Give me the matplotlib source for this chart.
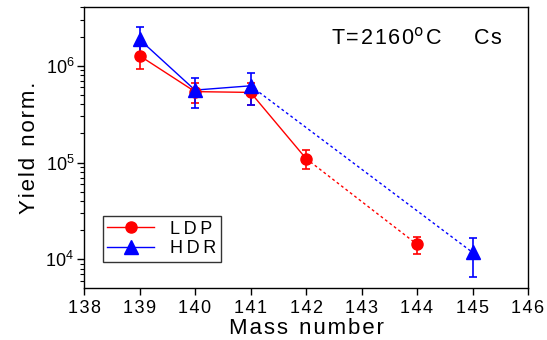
import matplotlib
matplotlib.use("Agg")
import matplotlib.pyplot as plt
import numpy as np
from matplotlib.ticker import LogLocator, NullFormatter

plt.rcParams['font.family'] = ['Liberation Sans', 'DejaVu Sans']

ldp_mass = [139, 140, 141, 142, 144]
ldp_yield = [1.27e6, 5.4e5, 5.3e5, 1.1e5, 1.43e4]
ldp_err_lo = [9.3e5, 4.1e5, 3.9e5, 8.5e4, 1.13e4]
ldp_err_hi = [1.6e6, 6.6e5, 6.6e5, 1.36e5, 1.71e4]

hdr_mass = [139, 140, 141, 145]
hdr_yield = [1.87e6, 5.6e5, 6.2e5, 1.18e4]
hdr_err_lo = [1.25e6, 3.7e5, 3.9e5, 6.6e3]
hdr_err_hi = [2.49e6, 7.4e5, 8.5e5, 1.66e4]

x_ticks = [138, 139, 140, 141, 142, 143, 144, 145, 146]

W, H = 547, 340
fig = plt.figure(figsize=(W/100, H/100), dpi=100)
L, R, T, B = 84, 528, 7, 288
ax = fig.add_axes([L/W, 1-B/H, (R-L)/W, (B-T)/H])

red = '#ff0000'
blue = '#0000ff'

def spaced(s, sp='\u200a'):
    return sp.join(list(s))

def draw(mass, y, lo, hi, color, marker, ms, nsolid, label):
    mass = np.array(mass); y = np.array(y)
    ax.plot(mass[:nsolid], y[:nsolid], '-', color=color, lw=1.0, zorder=2)
    ax.plot(mass[nsolid-1:], y[nsolid-1:], linestyle=(0, (2, 2)), color=color, lw=1.0, zorder=2)
    yerr = [y - np.array(lo), np.array(hi) - y]
    ax.errorbar(mass, y, yerr=yerr, fmt='none', ecolor=color, elinewidth=1.2, capsize=3, capthick=1.2, zorder=3)
    ax.plot(mass, y, linestyle='none', marker=marker, color=color, ms=ms, zorder=4)
    ax.plot([], [], '-', color=color, marker=marker, ms=ms, lw=1.0, label=label)

draw(ldp_mass, ldp_yield, ldp_err_lo, ldp_err_hi, red, 'o', 8, 4, spaced('LDP', '\u2009'))
draw(hdr_mass, hdr_yield, hdr_err_lo, hdr_err_hi, blue, '^', 9.5, 3, spaced('HDR', '\u2009'))

ax.set_yscale('log')
ax.set_xlim(138, 146)
ax.set_ylim(5.06e3, 4.04e6)
ax.set_xticks(x_ticks)
ax.set_xticklabels([spaced(str(t)) for t in x_ticks])
ax.yaxis.set_major_locator(LogLocator(base=10, numticks=10))
ax.yaxis.set_minor_locator(LogLocator(base=10, subs=np.arange(2, 10), numticks=20))
ax.yaxis.set_minor_formatter(NullFormatter())

ax.tick_params(axis='both', which='major', direction='out', length=5, width=1, labelsize=13,
               top=False, right=False)
ax.tick_params(axis='y', which='major', pad=2)
ax.tick_params(axis='y', which='minor', direction='out', length=3, width=0.8)
for s in ax.spines.values():
    s.set_linewidth(1.0)

ax.set_xlabel('M a s s  n u m b e r'.replace('  ', '\u2002').replace(' ', '\u200a'), fontsize=16, labelpad=1)
ax.set_ylabel(spaced('Yield') + '\u2002' + spaced('norm.'), fontsize=16, labelpad=4)

title = spaced('T=2160') + '$^{\\mathrm{o}}$' + '\u200aC\u2003\u2002' + spaced('Cs')
fig.text(502/W, 1-38/H, title, ha='right', va='center', fontsize=15.5)

leg = ax.legend(loc='lower left', bbox_to_anchor=((102.7-L)/(R-L), (B-262)/(B-T)), borderaxespad=0,
                fontsize=13, frameon=True, fancybox=False,
                edgecolor='black', handlelength=2.6, borderpad=0.25, labelspacing=0.15, handletextpad=0.9)
leg.get_frame().set_linewidth(1.0)

fig.savefig('out.png', dpi=100)
